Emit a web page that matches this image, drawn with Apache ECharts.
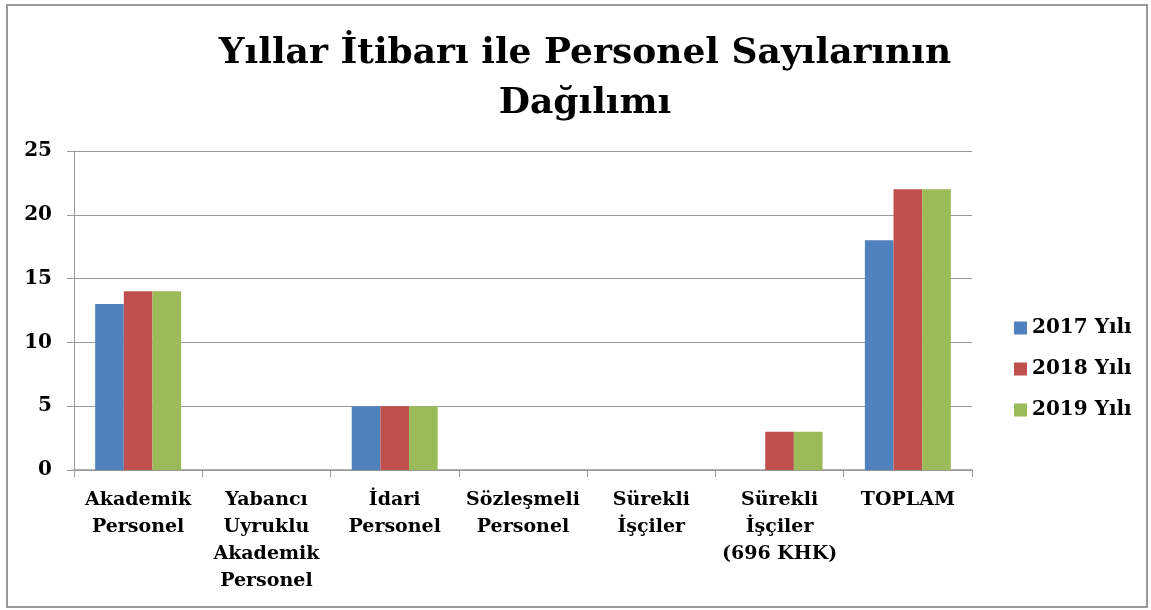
<!DOCTYPE html>
<html>
<head>
<meta charset="utf-8">
<script src="https://cdn.jsdelivr.net/npm/echarts@6/dist/echarts.min.js"></script>
<style>
	html, body { margin: 0; padding: 0; background: #fff; }
	#chart { width: 1151px; height: 610px; }
</style>
</head>
<body>
<div id="chart"></div>
<script>
var categories = [
	"Akademik\nPersonel",
	"Yabancı\nUyruklu\nAkademik\nPersonel",
	"İdari\nPersonel",
	"Sözleşmeli\nPersonel",
	"Sürekli\nİşçiler",
	"Sürekli\nİşçiler\n(696 KHK)",
	"TOPLAM"
];
var seriesNames = ["2017 Yılı", "2018 Yılı", "2019 Yılı"];
var data2017 = [13, 0, 5, 0, 0, 0, 18];
var data2018 = [14, 0, 5, 0, 0, 3, 22];
var data2019 = [14, 0, 5, 0, 0, 3, 22];
var yTicks = { min: 0, max: 25, interval: 5 };

(function() {
	var myColor = ["#4F81BD", "#C0504D", "#9BBB59"];
	var font = "'DejaVu Serif', 'Liberation Serif', serif";

	var myChart = echarts.init(document.getElementById("chart"));

	var option = {
		color: myColor,
		textStyle: { fontFamily: font },
		title: {
			text: "Yıllar İtibarı ile Personel Sayılarının\nDağılımı",
			left: 580,
			textAlign: "center",
			top: 24,
			textStyle: {
				fontFamily: font,
				fontSize: 36,
				fontWeight: "bold",
				color: "#000",
				lineHeight: 50
			}
		},
		legend: {
			orient: "vertical",
			left: 1009,
			top: 313,
			itemWidth: 13,
			itemHeight: 13,
			itemGap: 21,
			itemStyle: { borderWidth: 0 },
			icon: "rect",
			textStyle: {
				fontFamily: font,
				fontSize: 20,
				fontWeight: "bold",
				color: "#000"
			},
			data: seriesNames
		},
		grid: {
			left: 74,
			right: 179,
			top: 151,
			bottom: 140
		},
		xAxis: {
			type: "category",
			data: categories,
			axisLine: { lineStyle: { color: "#999", width: 1.5 } },
			axisTick: { show: true, length: 7, lineStyle: { color: "#999" } },
			axisLabel: {
				interval: 0,
				margin: 17,
				fontFamily: font,
				fontSize: 19,
				fontWeight: "bold",
				color: "#000",
				lineHeight: 27
			}
		},
		yAxis: {
			type: "value",
			min: yTicks.min,
			max: yTicks.max,
			interval: yTicks.interval,
			axisLine: { show: true, lineStyle: { color: "#999", width: 1 } },
			axisTick: { show: true, length: 7, lineStyle: { color: "#999" } },
			splitLine: { lineStyle: { color: "#999", width: 1 } },
			axisLabel: {
				margin: 22,
				fontFamily: font,
				fontSize: 20,
				fontWeight: "bold",
				color: "#000"
			}
		},
		graphic: [{
			type: "rect",
			shape: { x: 7, y: 5, width: 1140, height: 602 },
			style: { fill: "none", stroke: "#999", lineWidth: 2 },
			silent: true
		}],
		series: [
			{ name: seriesNames[0], type: "bar", data: data2017, barGap: "0%", barCategoryGap: "33%" },
			{ name: seriesNames[1], type: "bar", data: data2018, barGap: "0%", barCategoryGap: "33%" },
			{ name: seriesNames[2], type: "bar", data: data2019, barGap: "0%", barCategoryGap: "33%" }
		]
	};

	myChart.setOption(option);

	window.addEventListener("resize", function() {
		myChart.resize();
	});
})();
</script>
</body>
</html>
